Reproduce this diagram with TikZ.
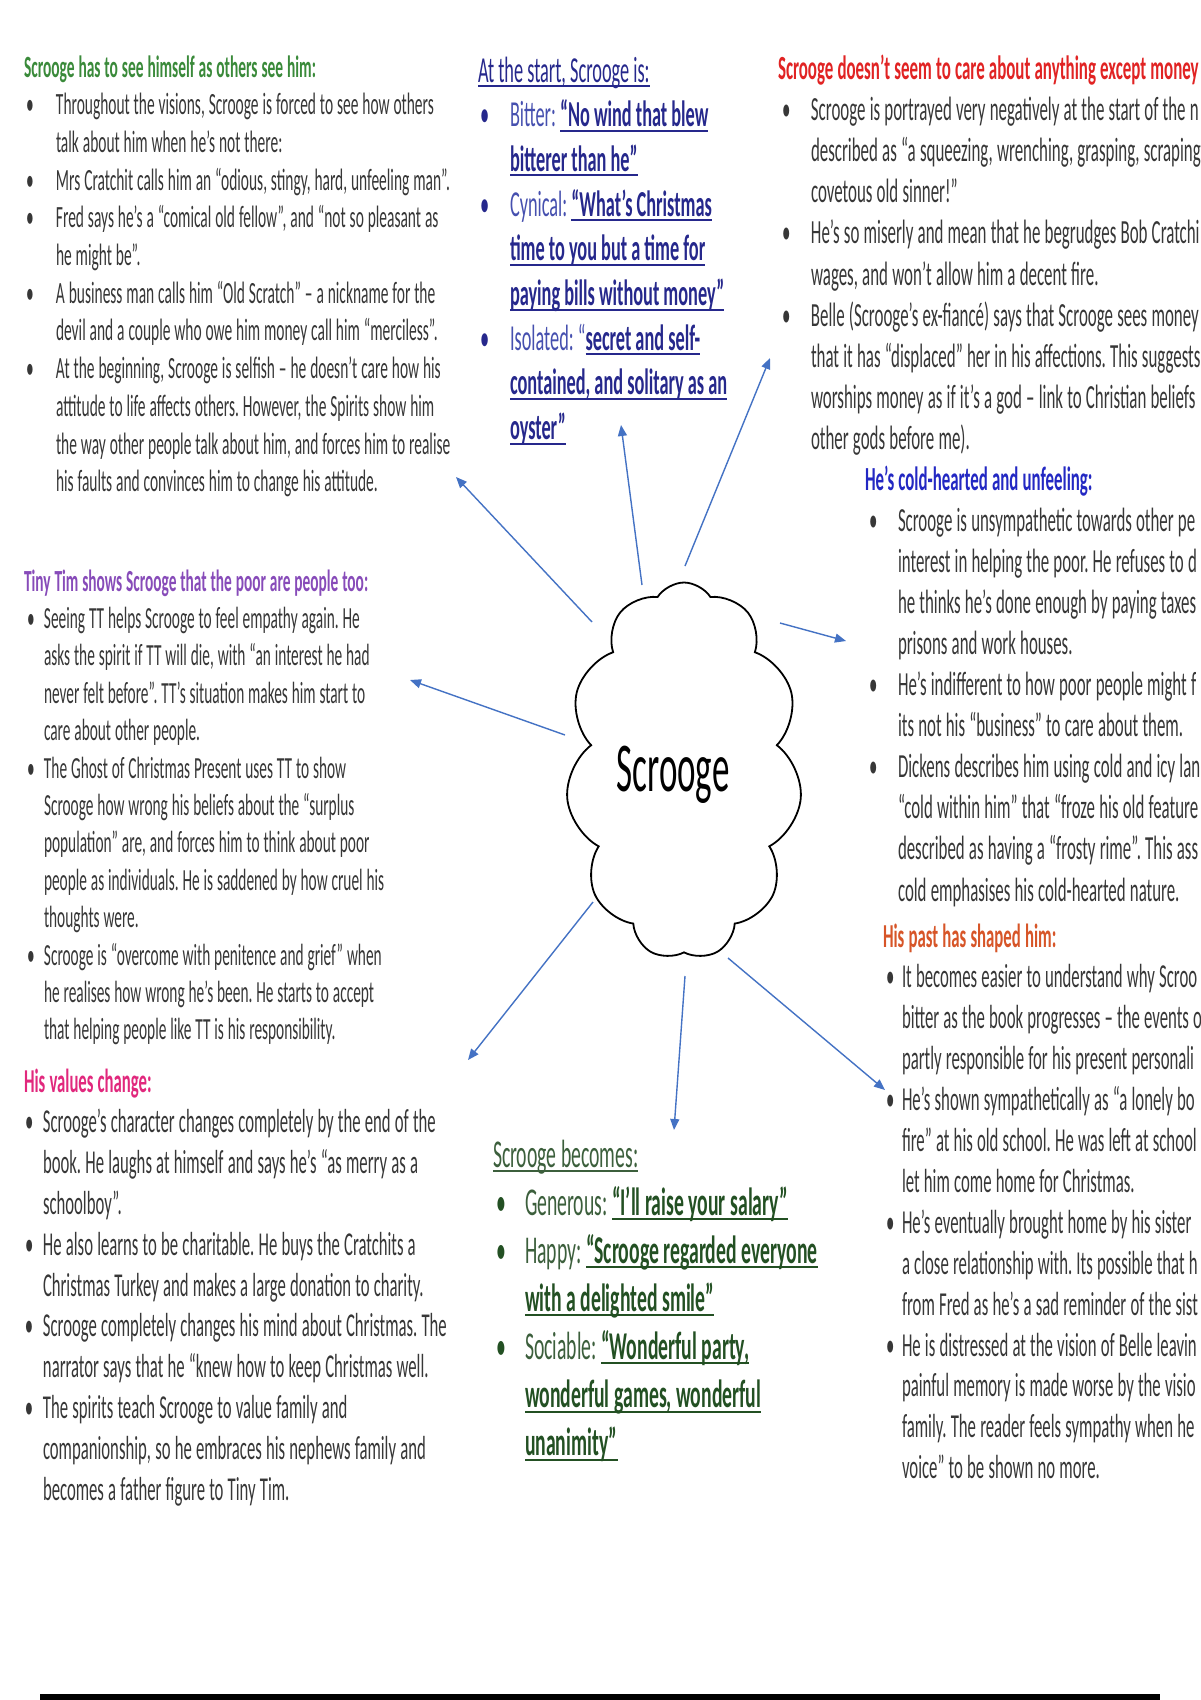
\documentclass[tikz,border=0pt]{standalone}
\usepackage{fontspec}
\setmainfont{Carlito}[FakeStretch=0.5]
\usetikzlibrary{arrows.meta,shapes.symbols}
\definecolor{bodygray}{RGB}{55,55,55}
\definecolor{hgreen}{RGB}{58,138,58}
\definecolor{bnavy}{RGB}{38,40,140}
\definecolor{blab}{RGB}{70,80,175}
\definecolor{hred}{RGB}{225,35,35}
\definecolor{hblue}{RGB}{35,40,195}
\definecolor{horange}{RGB}{215,85,40}
\definecolor{hpurple}{RGB}{135,75,185}
\definecolor{hpink}{RGB}{225,40,125}
\definecolor{dgreen}{RGB}{35,80,35}
\definecolor{lgreen}{RGB}{60,95,60}
\definecolor{arrowblue}{RGB}{68,114,196}
\newlength\bulx
\newlength\txtx
\newskip\myspace
\newsavebox\ulbox
\newcommand\setsp{\spaceskip=\myspace\xspaceskip=\myspace\relax}
\newcommand\myul[1]{\sbox\ulbox{\setsp#1}\rlap{\rule[-5pt]{\wd\ulbox}{2pt}}\usebox\ulbox}
\newcommand\hdl[1]{\setsp#1}
\newcommand\bli[1]{\setsp\makebox[\txtx][l]{\hspace*{\bulx}\textbullet}#1}
\newcommand\cli[1]{\setsp\hspace*{\txtx}#1}
\newcommand\blkfont[5]{\fontsize{#1pt}{#2pt}\selectfont\frenchspacing\global\myspace=#3pt plus 1pt minus 0.5pt\relax\setlength\bulx{#4pt}\setlength\txtx{#5pt}}
\tikzset{
  blk/.style={anchor=base west, inner sep=0pt, outer sep=0pt, text width=900pt, align=left, text=bodygray},
  arr/.style={draw=arrowblue, line width=1.4pt, -{Triangle[length=11pt,width=9pt]}},
}
\begin{document}
\begin{tikzpicture}[x=1pt,y=-1pt]
\useasboundingbox (0,0) rectangle (1200,1700);
\clip (0,0) rectangle (1200,1700);
\fill[white] (0,0) rectangle (1200,1700);

% Block 1
\node[blk, font=\blkfont{30.9}{37.7}{3.9}{2}{32}] (b1) at (24,77) {%
\hdl{\textcolor{hgreen}{\textbf{Scrooge has to see himself as others see him:}}}\\
\bli{Throughout the visions, Scrooge is forced to see how others}\\
\cli{talk about him when he’s not there:}\\
\bli{Mrs Cratchit calls him an “odious, stingy, hard, unfeeling man”.}\\
\bli{Fred says he’s a “comical old fellow”, and “not so pleasant as}\\
\cli{he might be”.}\\
\bli{A business man calls him “Old Scratch” – a nickname for the}\\
\cli{devil and a couple who owe him money call him “merciless”.}\\
\bli{At the beginning, Scrooge is selfish – he doesn’t care how his}\\
\cli{attitude to life affects others. However, the Spirits show him}\\
\cli{the way other people talk about him, and forces him to realise}\\
\cli{his faults and convinces him to change his attitude.}};

% Block 2
\node[blk, text=bnavy, font=\blkfont{36.6}{44.7}{4.1}{2}{32}] (b2) at (478,82) {%
\hdl{\myul{At the start, Scrooge is:}}\\
\bli{\textcolor{blab}{Bitter: }\myul{\textbf{“No wind that blew}}}\\
\cli{\myul{\textbf{bitterer than he”}}}\\
\bli{\textcolor{blab}{Cynical: }\myul{\textbf{“What’s Christmas}}}\\
\cli{\myul{\textbf{time to you but a time for}}}\\
\cli{\myul{\textbf{paying bills without money”}}}\\
\bli{\textcolor{blab}{Isolated: “}\myul{\textbf{secret and self-}}}\\
\cli{\myul{\textbf{contained, and solitary as an}}}\\
\cli{\myul{\textbf{oyster”}}}};

% Block 3
\node[blk, font=\blkfont{33.8}{41.2}{4.2}{4}{33}] (b3) at (778,79) {%
\hdl{\textcolor{hred}{\textbf{Scrooge doesn’t seem to care about anything except money}}}\\
\bli{Scrooge is portrayed very negatively at the start of the n}\\
\cli{described as “a squeezing, wrenching, grasping, scraping}\\
\cli{covetous old sinner!”}\\
\bli{He’s so miserly and mean that he begrudges Bob Cratchi}\\
\cli{wages, and won’t allow him a decent fire.}\\
\bli{Belle (Scrooge’s ex-fiancé) says that Scrooge sees money}\\
\cli{that it has “displaced” her in his affections. This suggests}\\
\cli{worships money as if it’s a god – link to Christian beliefs}\\
\cli{other gods before me).}};

% Block 4
\node[blk, font=\blkfont{33.7}{41.1}{4.2}{4}{33}] (b4) at (865,490) {%
\hdl{\textcolor{hblue}{\textbf{He’s cold-hearted and unfeeling:}}}\\
\bli{Scrooge is unsympathetic towards other pe}\\
\cli{interest in helping the poor. He refuses to d}\\
\cli{he thinks he’s done enough by paying taxes}\\
\cli{prisons and work houses.}\\
\bli{He’s indifferent to how poor people might f}\\
\cli{its not his “business” to care about them.}\\
\bli{Dickens describes him using cold and icy lan}\\
\cli{“cold within him” that “froze his old feature}\\
\cli{described as having a “frosty rime”. This ass}\\
\cli{cold emphasises his cold-hearted nature.}};

% Block 5
\node[blk, font=\blkfont{33.5}{40.9}{4.2}{3}{19}] (b5) at (883,947) {%
\hdl{\textcolor{horange}{\textbf{His past has shaped him:}}}\\
\bli{It becomes easier to understand why Scroo}\\
\cli{bitter as the book progresses – the events o}\\
\cli{partly responsible for his present personali}\\
\bli{He’s shown sympathetically as “a lonely bo}\\
\cli{fire” at his old school. He was left at school}\\
\cli{let him come home for Christmas.}\\
\bli{He’s eventually brought home by his sister}\\
\cli{a close relationship with. Its possible that h}\\
\cli{from Fred as he’s a sad reminder of the sist}\\
\bli{He is distressed at the vision of Belle leavin}\\
\cli{painful memory is made worse by the visio}\\
\cli{family. The reader feels sympathy when he}\\
\cli{voice” to be shown no more.}};

% Block 6
\node[blk, font=\blkfont{30.7}{37.4}{3.9}{3}{20}] (b6) at (24,591) {%
\hdl{\textcolor{hpurple}{\textbf{Tiny Tim shows Scrooge that the poor are people too:}}}\\
\bli{Seeing TT helps Scrooge to feel empathy again. He}\\
\cli{asks the spirit if TT will die, with “an interest he had}\\
\cli{never felt before”. TT’s situation makes him start to}\\
\cli{care about other people.}\\
\bli{The Ghost of Christmas Present uses TT to show}\\
\cli{Scrooge how wrong his beliefs about the “surplus}\\
\cli{population” are, and forces him to think about poor}\\
\cli{people as individuals. He is saddened by how cruel his}\\
\cli{thoughts were.}\\
\bli{Scrooge is “overcome with penitence and grief” when}\\
\cli{he realises how wrong he’s been. He starts to accept}\\
\cli{that helping people like TT is his responsibility.}};

% Block 7
\node[blk, font=\blkfont{33.4}{40.8}{4.2}{1}{19}] (b7) at (24,1092) {%
\hdl{\textcolor{hpink}{\textbf{His values change:}}}\\
\bli{Scrooge’s character changes completely by the end of the}\\
\cli{book. He laughs at himself and says he’s “as merry as a}\\
\cli{schoolboy”.}\\
\bli{He also learns to be charitable. He buys the Cratchits a}\\
\cli{Christmas Turkey and makes a large donation to charity.}\\
\bli{Scrooge completely changes his mind about Christmas. The}\\
\cli{narrator says that he “knew how to keep Christmas well.}\\
\bli{The spirits teach Scrooge to value family and}\\
\cli{companionship, so he embraces his nephews family and}\\
\cli{becomes a father figure to Tiny Tim.}};

% Block 8
\node[blk, text=dgreen, font=\blkfont{39.4}{48.1}{4.5}{3}{32}] (b8) at (493,1167) {%
\hdl{\textcolor{lgreen}{\myul{Scrooge becomes:}}}\\
\bli{\textcolor{lgreen}{Generous: }\myul{\textbf{“I’ll raise your salary”}}}\\
\bli{\textcolor{lgreen}{Happy: }\myul{\textbf{“Scrooge regarded everyone}}}\\
\cli{\myul{\textbf{with a delighted smile”}}}\\
\bli{\textcolor{lgreen}{Sociable: }\myul{\textbf{“Wonderful party,}}}\\
\cli{\myul{\textbf{wonderful games, wonderful}}}\\
\cli{\myul{\textbf{unanimity”}}}};

% Cloud
\node[cloud, draw=black, line width=1.8pt, fill=white, cloud puffs=11, cloud puff arc=115,
      cloud ignores aspect, minimum width=236pt, minimum height=377pt, inner sep=0pt] (cloud) at (684,771) {};
\node[font=\fontsize{70pt}{84pt}\selectfont, text=black, inner sep=0pt] (title) at (673,775) {Scrooge};

% Arrows
\coordinate (s1) at (592,622); \coordinate (e1) at (456,477);
\coordinate (s2) at (642,585); \coordinate (e2) at (621,425);
\coordinate (s3) at (685,566); \coordinate (e3) at (770,358);
\coordinate (s4) at (780,623); \coordinate (e4) at (846,641);
\coordinate (s5) at (565,735); \coordinate (e5) at (410,680);
\coordinate (s6) at (593,902); \coordinate (e6) at (468,1060);
\coordinate (s7) at (685,976); \coordinate (e7) at (674,1130);
\coordinate (s8) at (728,958); \coordinate (e8) at (885,1090);
\foreach \i in {1,...,8} \draw[arr] (s\i) -- (e\i);

% bottom rule
\fill[black] (40,1694) rectangle (1160,1700);
\end{tikzpicture}
\end{document}
